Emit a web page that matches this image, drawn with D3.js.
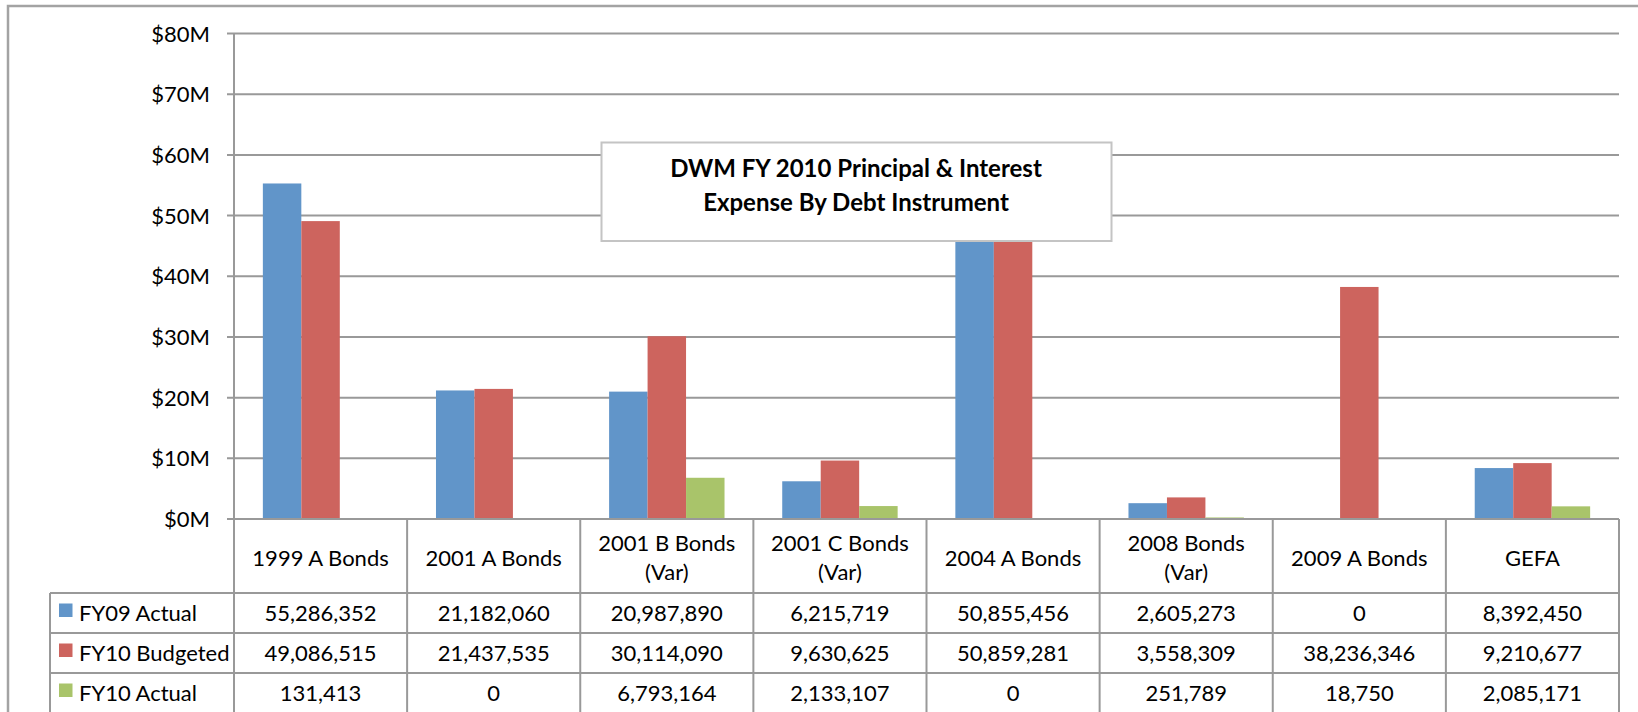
<!DOCTYPE html>
<html>
<head>
<meta charset="utf-8">
<script src="https://cdn.jsdelivr.net/npm/d3@7"></script>
<style>
  body { margin: 0; background: #fff; }
  svg { display: block; font-family: Lato, "Liberation Sans", sans-serif; }
  .grid { stroke: #999; stroke-width: 2; }
  .cell-line { stroke: #999; stroke-width: 2; }
  .tick-label { font-size: 22px; fill: #000; text-anchor: end; }
  .cell { font-size: 22px; fill: #000; text-anchor: middle; }
  .legend-label { font-size: 22px; fill: #000; }
  .title { font-size: 24px; font-weight: bold; text-anchor: middle; fill: #000; }
</style>
</head>
<body>
<svg width="1638" height="712"></svg>
<script>
const categories = [
  "1999 A Bonds",
  "2001 A Bonds",
  "2001 B Bonds\n(Var)",
  "2001 C Bonds\n(Var)",
  "2004 A Bonds",
  "2008 Bonds\n(Var)",
  "2009 A Bonds",
  "GEFA"
];
const seriesNames = ["FY09 Actual", "FY10 Budgeted", "FY10 Actual"];
const seriesColors = ["#6195c9", "#cd645e", "#a9c46a"];
const fy09Actual = [55286352, 21182060, 20987890, 6215719, 50855456, 2605273, 0, 8392450];
const fy10Budgeted = [49086515, 21437535, 30114090, 9630625, 50859281, 3558309, 38236346, 9210677];
const fy10Actual = [131413, 0, 6793164, 2133107, 0, 251789, 18750, 2085171];
const yTicks = [0, 10e6, 20e6, 30e6, 40e6, 50e6, 60e6, 70e6, 80e6];
const chartTitle = ["DWM FY 2010 Principal & Interest", "Expense By Debt Instrument"];

const seriesValues = [fy09Actual, fy10Budgeted, fy10Actual];

const svg = d3.select("svg");

const plotLeft = 234;
const plotRight = 1619;
const plotTop = 33.5;
const plotBottom = 519;
const headerBottom = 593;
const rowHeight = 40;
const legendLeft = 50;
const tableBottom = headerBottom + rowHeight * 3;

const x = d3.scaleBand().domain(categories).range([plotLeft, plotRight]).padding(0);
const xInner = d3
  .scaleBand()
  .domain(seriesNames)
  .range([0, x.bandwidth()])
  .paddingInner(0)
  .paddingOuter(0.75);
const y = d3.scaleLinear().domain([0, 80e6]).range([plotBottom, plotTop]);
const moneyFormat = (v) => `$${v / 1e6}M`;
const numFormat = d3.format(",.0f");

// outer chart border (runs off the right and bottom edges)
svg
  .append("rect")
  .attr("x", 8)
  .attr("y", 6)
  .attr("width", 1700)
  .attr("height", 800)
  .attr("fill", "none")
  .attr("stroke", "#a3a3a3")
  .attr("stroke-width", 2.5);

// gridlines (zero line drawn later, over the bars)
svg
  .append("g")
  .selectAll("line")
  .data(yTicks.filter((d) => d > 0))
  .enter()
  .append("line")
  .attr("class", "grid")
  .attr("x1", plotLeft - 7)
  .attr("x2", plotRight)
  .attr("y1", (d) => y(d))
  .attr("y2", (d) => y(d));

svg
  .append("g")
  .selectAll("text")
  .data(yTicks)
  .enter()
  .append("text")
  .attr("class", "tick-label")
  .attr("x", plotLeft - 24)
  .attr("y", (d) => y(d) + 8)
  .text(moneyFormat);

// bars
const barGroups = svg
  .append("g")
  .selectAll("g")
  .data(seriesNames)
  .enter()
  .append("g")
  .attr("fill", (d, i) => seriesColors[i]);

barGroups
  .selectAll("rect")
  .data((d, i) => seriesValues[i].map((v, j) => ({ series: d, cat: categories[j], value: v })))
  .enter()
  .append("rect")
  .attr("x", (d) => x(d.cat) + xInner(d.series))
  .attr("width", xInner.bandwidth())
  .attr("y", (d) => y(d.value))
  .attr("height", (d) => y(0) - y(d.value));

svg
  .append("line")
  .attr("class", "grid")
  .attr("x1", plotLeft - 7)
  .attr("x2", plotRight)
  .attr("y1", y(0))
  .attr("y2", y(0));

// y axis line, continues down as the first table column line
svg
  .append("line")
  .attr("class", "cell-line")
  .attr("x1", plotLeft)
  .attr("x2", plotLeft)
  .attr("y1", plotTop)
  .attr("y2", tableBottom);

// data table
const table = svg.append("g");

table
  .selectAll("line.col")
  .data(categories)
  .enter()
  .append("line")
  .attr("class", "cell-line col")
  .attr("x1", (d) => x(d) + x.bandwidth())
  .attr("x2", (d) => x(d) + x.bandwidth())
  .attr("y1", plotBottom)
  .attr("y2", tableBottom);

table
  .selectAll("line.row")
  .data([0, 1, 2])
  .enter()
  .append("line")
  .attr("class", "cell-line row")
  .attr("x1", legendLeft)
  .attr("x2", plotRight)
  .attr("y1", (d) => headerBottom + d * rowHeight)
  .attr("y2", (d) => headerBottom + d * rowHeight);

table
  .append("line")
  .attr("class", "cell-line")
  .attr("x1", legendLeft)
  .attr("x2", legendLeft)
  .attr("y1", headerBottom)
  .attr("y2", tableBottom);

// category headers
table
  .selectAll("text.head")
  .data(categories)
  .enter()
  .append("text")
  .attr("class", "cell head")
  .attr("x", (d) => x(d) + x.bandwidth() / 2)
  .attr("y", (d) => (d.includes("\n") ? 551 : 566))
  .selectAll("tspan")
  .data((d) => d.split("\n"))
  .enter()
  .append("tspan")
  .attr("x", function () {
    return this.parentNode.getAttribute("x");
  })
  .attr("dy", (d, i) => (i === 0 ? 0 : 29))
  .text((d) => d);

// value rows
const rows = table
  .selectAll("g.row")
  .data(seriesNames)
  .enter()
  .append("g")
  .attr("class", "row")
  .attr("transform", (d, i) => `translate(0, ${headerBottom + i * rowHeight + rowHeight / 2})`);

rows
  .append("rect")
  .attr("x", 59)
  .attr("y", -9.5)
  .attr("width", 13.5)
  .attr("height", 13.5)
  .attr("fill", (d, i) => seriesColors[i]);

rows
  .append("text")
  .attr("class", "legend-label")
  .attr("x", 79)
  .attr("y", 8)
  .text((d) => d);

rows
  .selectAll("text.cell")
  .data((d, i) => seriesValues[i].map((v, j) => ({ cat: categories[j], value: v })))
  .enter()
  .append("text")
  .attr("class", "cell")
  .attr("x", (d) => x(d.cat) + x.bandwidth() / 2)
  .attr("y", 8)
  .text((d) => numFormat(d.value));

// title box sits over the bars
const titleBox = svg.append("g");

titleBox
  .append("rect")
  .attr("x", 601.5)
  .attr("y", 142.5)
  .attr("width", 510)
  .attr("height", 98.5)
  .attr("fill", "#fff")
  .attr("stroke", "#c4c4c4")
  .attr("stroke-width", 2);

titleBox
  .selectAll("text")
  .data(chartTitle)
  .enter()
  .append("text")
  .attr("class", "title")
  .attr("x", 856)
  .attr("y", (d, i) => 177 + i * 34)
  .text((d) => d);
</script>
</body>
</html>
